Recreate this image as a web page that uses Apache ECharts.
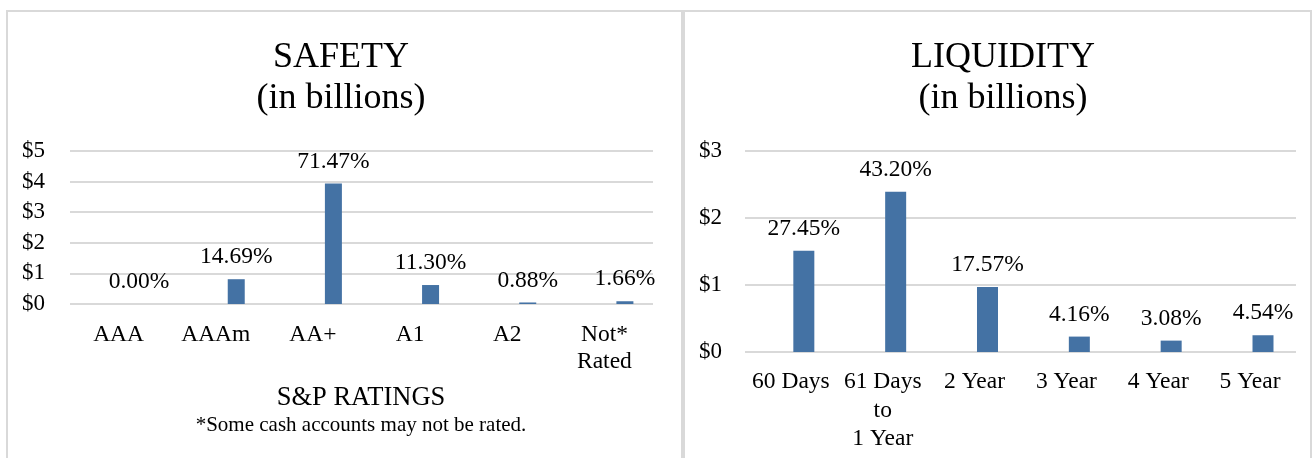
<!DOCTYPE html>
<html>
<head>
<meta charset="utf-8">
<script src="https://cdn.jsdelivr.net/npm/echarts@6/dist/echarts.min.js"></script>
<style>
html, body { margin: 0; padding: 0; background: #fff; }
#main { width: 1313px; height: 458px; }
</style>
</head>
<body>
<div id="main"></div>
<script>
// S&P ratings (left chart)
var safetyCats = ['AAA', 'AAAm', 'AA+', 'A1', 'A2', 'Not*\nRated'];
var safetyValues = [0, 0.81, 3.94, 0.62, 0.05, 0.09];
var safetyPct = ['0.00%', '14.69%', '71.47%', '11.30%', '0.88%', '1.66%'];

// maturity buckets (right chart)
var liquidityCats = ['60 Days', '61 Days\nto\n1 Year', '2 Year', '3 Year', '4 Year', '5 Year'];
var liquidityValues = [1.51, 2.39, 0.97, 0.23, 0.17, 0.25];
var liquidityPct = ['27.45%', '43.20%', '17.57%', '4.16%', '3.08%', '4.54%'];

var font = 'Liberation Serif';
var barColor = '#4472a4';
var lineColor = '#d9d9d9';

var myChart = echarts.init(document.getElementById('main'));

function xAxisFor(idx, cats, margin, lh) {
    return {
        type: 'category',
        gridIndex: idx,
        data: cats,
        axisLine: { show: false },
        axisTick: { show: false },
        axisLabel: {
            interval: 0,
            margin: margin,
            fontFamily: font,
            fontSize: 23.5,
            lineHeight: lh,
            color: '#000'
        }
    };
}

function yAxisFor(idx, max, margin) {
    return {
        type: 'value',
        gridIndex: idx,
        min: 0,
        max: max,
        interval: 1,
        axisLine: { show: false },
        axisTick: { show: false },
        axisLabel: {
            margin: margin,
            fontFamily: font,
            fontSize: 23,
            color: '#000',
            formatter: function (v) { return '$' + v; }
        },
        splitLine: { lineStyle: { color: lineColor, width: 2 } }
    };
}

function barSeries(idx, values, pct, width, gap) {
    return [
        {
            // empty first series, like the excel layout (pushes the bar right)
            name: 'blank',
            type: 'bar',
            xAxisIndex: idx,
            yAxisIndex: idx,
            barWidth: width,
            barGap: gap,
            data: values.map(function () { return null; })
        },
        {
            name: 'amount',
            type: 'bar',
            xAxisIndex: idx,
            yAxisIndex: idx,
            barWidth: width,
            barGap: gap,
            itemStyle: { color: barColor },
            label: {
                show: true,
                position: 'top',
                distance: 10,
                fontFamily: font,
                fontSize: 23.5,
                color: '#000',
                formatter: function (p) { return pct[p.dataIndex]; }
            },
            data: values
        }
    ];
}

var titleStyle = { fontFamily: font, fontSize: 36, fontWeight: 'normal', lineHeight: 41, color: '#000' };

var option = {
    backgroundColor: '#fff',
    animation: false,
    title: [
        {
            text: 'SAFETY\n(in billions)',
            left: 341,
            top: 37,
            padding: 0,
            textAlign: 'center',
            textStyle: titleStyle
        },
        {
            text: 'LIQUIDITY\n(in billions)',
            left: 1003,
            top: 37,
            padding: 0,
            textAlign: 'center',
            textStyle: titleStyle
        },
        {
            text: 'S&P RATINGS',
            subtext: '*Some cash accounts may not be rated.',
            left: 361,
            top: 383,
            textAlign: 'center',
            itemGap: 0,
            padding: 0,
            textStyle: { fontFamily: font, fontSize: 26.5, fontWeight: 'normal', lineHeight: 30, color: '#000' },
            subtextStyle: { fontFamily: font, fontSize: 21, lineHeight: 24, color: '#000' }
        }
    ],
    grid: [
        { left: 70, top: 151, width: 583, height: 153 },
        { left: 745, top: 151, width: 551, height: 201 }
    ],
    xAxis: [
        xAxisFor(0, safetyCats, 17, 27),
        xAxisFor(1, liquidityCats, 16, 28.5)
    ],
    yAxis: [
        yAxisFor(0, 5, 25),
        yAxisFor(1, 3, 23)
    ],
    series: barSeries(0, safetyValues, safetyPct, 17, '141%')
        .concat(barSeries(1, liquidityValues, liquidityPct, 21, '23%')),
    graphic: [
        {
            type: 'rect',
            shape: { x: 7, y: 11, width: 675, height: 470 },
            style: { fill: null, stroke: lineColor, lineWidth: 2 },
            silent: true
        },
        {
            type: 'rect',
            shape: { x: 684, y: 11, width: 627, height: 470 },
            style: { fill: null, stroke: lineColor, lineWidth: 2 },
            silent: true
        }
    ]
};

myChart.setOption(option);
</script>
</body>
</html>
